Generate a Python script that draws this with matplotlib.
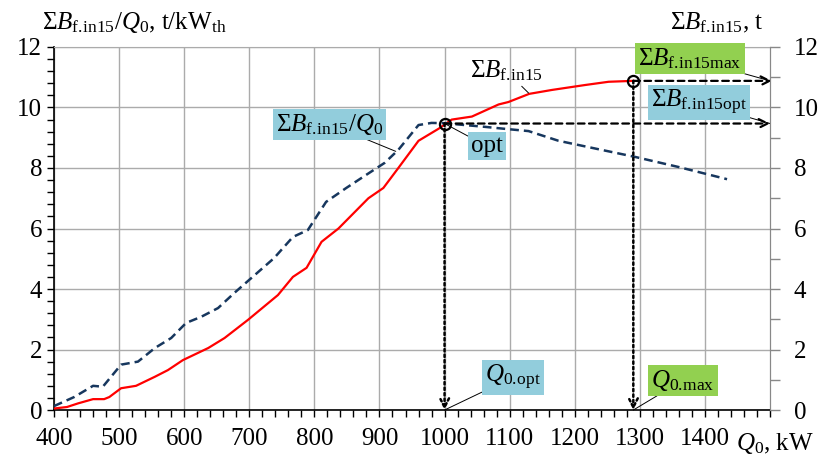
import matplotlib
matplotlib.use('Agg')
import matplotlib.pyplot as plt
from matplotlib.ticker import MultipleLocator, FixedLocator

plt.rcParams['font.family'] = ['Liberation Serif', 'DejaVu Serif']
plt.rcParams['mathtext.fontset'] = 'custom'
plt.rcParams['mathtext.rm'] = 'Liberation Serif'
plt.rcParams['mathtext.it'] = 'Liberation Serif:italic'
plt.rcParams['font.size'] = 18

# total ΣB_f.in15, t (red)
q_b = [400, 420, 437, 460, 477, 485, 503, 526, 555, 575, 598, 637, 662, 698,
       744, 767, 788, 811, 837, 883, 906, 929, 960, 991, 1011, 1042, 1083,
       1098, 1130, 1165, 1215, 1252, 1290]
b = [0.05, 0.1, 0.22, 0.36, 0.36, 0.43, 0.72, 0.8, 1.1, 1.32, 1.65, 2.05,
     2.38, 2.98, 3.8, 4.4, 4.7, 5.56, 6.0, 7.0, 7.34, 8.0, 8.9, 9.3, 9.6,
     9.7, 10.1, 10.18, 10.45, 10.58, 10.74, 10.85, 10.88]

# specific ΣB_f.in15/Q0, t/kW_th (dashed navy)
q_r = [400, 431, 460, 475, 503, 529, 555, 580, 603, 626, 652, 677, 703, 738,
       767, 790, 818, 849, 878, 908, 929, 960, 980, 1000, 1062, 1090, 1129,
       1175, 1241, 1292, 1360, 1434]
r = [0.13, 0.43, 0.8, 0.77, 1.5, 1.6, 2.05, 2.38, 2.88, 3.08, 3.37, 3.87,
     4.36, 5.02, 5.72, 5.95, 6.88, 7.34, 7.75, 8.17, 8.6, 9.42, 9.49, 9.48,
     9.36, 9.3, 9.22, 8.9, 8.6, 8.37, 8.03, 7.63]

q_opt, b_opt = 1000, 9.47
q_max, b_max = 1290, 10.88

x_ticks = [400, 500, 600, 700, 800, 900, 1000, 1100, 1200, 1300, 1400]
y_ticks = [0, 2, 4, 6, 8, 10, 12]

GREEN = '#92D050'
BLUE = '#92CDDC'

fig = plt.figure(figsize=(8.31, 4.67), dpi=100)
ax = fig.add_axes([0.065, 0.122, 0.8616, 0.7774])
ax.set_xlim(400, 1500)
ax.set_ylim(0, 12)

ax.plot(q_b, b, color='#FF0000', lw=1.6, zorder=3)
ax.plot(q_r, r, color='#17375E', lw=1.8, ls=(0, (3.5, 2)), zorder=3)

# guide arrows
arr_dash = dict(arrowstyle='->', color='black', lw=1.6, ls=(0, (3, 2)),
                mutation_scale=16, shrinkA=0, shrinkB=0)
arr_dot = dict(arrowstyle='->', color='black', lw=1.8, ls=(0, (1, 1.2)),
               mutation_scale=16, shrinkA=0, shrinkB=0)
ax.annotate('', xy=(1500, b_opt), xytext=(q_opt, b_opt), arrowprops=arr_dash,
            annotation_clip=False)
ax.annotate('', xy=(1503, b_max), xytext=(q_max, b_max), arrowprops=arr_dash,
            annotation_clip=False)
ax.annotate('', xy=(q_opt, 0), xytext=(q_opt, b_opt), arrowprops=arr_dot,
            annotation_clip=False)
ax.annotate('', xy=(q_max, 0), xytext=(q_max, b_max), arrowprops=arr_dot,
            annotation_clip=False)
ax.plot([q_opt, q_max], [b_opt, b_max], 'o', ms=8, mfc='none', mec='black',
        mew=1.6, zorder=5)

leader = dict(arrowstyle='-', color='black', lw=0.7, shrinkA=0, shrinkB=0)


def note(txt, xy, xyt, fc):
    bb = dict(boxstyle='square,pad=0.12', fc=fc, ec='none') if fc else None
    ax.annotate(txt, xy=xy, xytext=xyt, ha='center', va='center', fontsize=18,
                bbox=bb, arrowprops=leader, annotation_clip=False, zorder=6)


note(r'$\Sigma B_{\mathrm{f.\!in15}}/Q_{\mathrm{0}}$', (925, 8.55), (823, 9.45), BLUE)
note('opt', (q_opt, b_opt), (1065, 8.72), BLUE)
note(r'$\Sigma B_{\mathrm{f.\!in15}}$', (1129, 10.48), (1095, 11.2), None)
note(r'$\Sigma B_{\mathrm{f.\!in15max}}$', (1500, b_max), (1377, 11.62), GREEN)
note(r'$\Sigma B_{\mathrm{f.\!in15opt}}$', (1500, b_opt), (1391, 10.15), BLUE)
note(r'$Q_{\mathrm{0.\!opt}}$', (q_opt, 0), (1105, 1.08), BLUE)
note(r'$Q_{\mathrm{0.\!max}}$', (q_max, 0), (1366, 0.98), GREEN)

# axes styling
ax.xaxis.set_major_locator(FixedLocator(x_ticks))
ax.xaxis.set_minor_locator(MultipleLocator(20))
ax.yaxis.set_major_locator(FixedLocator(y_ticks))
ax.yaxis.set_minor_locator(MultipleLocator(0.4))
ax.grid(True, which='major', color='#ABABAB', lw=1.0)
ax.set_axisbelow(True)
ax.tick_params(which='both', direction='out', length=5, width=1, color='black')
ax.tick_params(axis='x', pad=8)
ax.spines['top'].set_color('#ABABAB')
ax.spines['right'].set_color('#888888')
ax.spines['left'].set_linewidth(1.2)
ax.spines['bottom'].set_linewidth(1.2)

ax2 = ax.twinx()
ax2.set_ylim(0, 12)
ax2.yaxis.set_major_locator(FixedLocator(y_ticks))
ax2.yaxis.set_minor_locator(MultipleLocator(1))
ax2.tick_params(which='both', direction='out', length=7, width=1,
                color='#888888', pad=10)
for s in ['top', 'left', 'bottom']:
    ax2.spines[s].set_visible(False)
ax2.spines['right'].set_color('#888888')

fig.text(0.05, 0.925, r'$\Sigma B_{\mathrm{f.\!in15}}/Q_{\mathrm{0}}$, t/kW$_{\mathrm{th}}$',
         fontsize=18, va='bottom', ha='left')
fig.text(0.806, 0.925, r'$\Sigma B_{\mathrm{f.\!in15}}$, t', fontsize=18,
         va='bottom', ha='left')
fig.text(0.886, 0.051, r'$Q_{\mathrm{0}}$, kW', fontsize=18, va='center', ha='left')

fig.savefig('out.png', dpi=100)
